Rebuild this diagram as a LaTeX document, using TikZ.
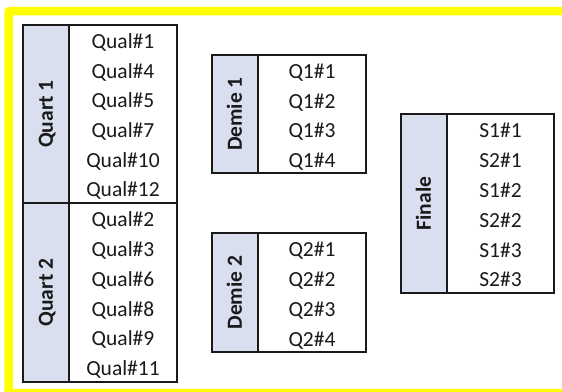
\documentclass[tikz,border=0pt]{standalone}
\usepackage{fontspec}
\setmainfont{Carlito}
\definecolor{labfill}{HTML}{D9DFEF}
\definecolor{framecol}{HTML}{FFFF00}
\definecolor{linecol}{HTML}{1A1A1A}
\tikzset{
  cellline/.style={draw=linecol, line width=1.4pt},
  labbox/.style={cellline, fill=labfill, rotate=90, inner sep=0pt,
    font=\fontsize{21.5}{26}\selectfont\bfseries, text=linecol,
    text height=13.8pt, text depth=0pt, minimum height=46pt},
  valbox/.style={cellline, fill=white, inner sep=0pt},
  item/.style={inner sep=0pt, font=\fontsize{21.5}{26}\selectfont, text=linecol,
    text height=13.8pt, text depth=0pt, anchor=center},
}
\begin{document}
\begin{tikzpicture}[x=1pt,y=-1pt]
\useasboundingbox (0,0) rectangle (562,391);
\fill[white] (0,0) rectangle (562,391);
\begin{scope}
\clip (0,0) rectangle (562,391);
\draw[framecol, line width=8.5pt, rounded corners=2pt] (8.5,11) rectangle (600,393);
\end{scope}
% Quart 1
\node[valbox, minimum width=108pt, minimum height=178pt] (q1v) at (123,114) {};
\node[labbox, minimum width=178pt] (q1l) at (46,114) {Quart 1};
\foreach \t [count=\i] in {Qual\#1,Qual\#4,Qual\#5,Qual\#7,Qual\#10,Qual\#12}
  \node[item] (q1-\i) at (123,{25+(\i-0.5)*178/6+1.8}) {\t};
% Quart 2
\node[valbox, minimum width=108pt, minimum height=179pt] (q2v) at (123,292.5) {};
\node[labbox, minimum width=179pt] (q2l) at (46,292.5) {Quart 2};
\foreach \t [count=\i] in {Qual\#2,Qual\#3,Qual\#6,Qual\#8,Qual\#9,Qual\#11}
  \node[item] (q2-\i) at (123,{203+(\i-0.5)*179/6+1.8}) {\t};
% Demie 1
\node[valbox, minimum width=108pt, minimum height=118pt] (d1v) at (312,114) {};
\node[labbox, minimum width=118pt] (d1l) at (235,114) {Demie 1};
\foreach \t [count=\i] in {Q1\#1,Q1\#2,Q1\#3,Q1\#4}
  \node[item] (d1-\i) at (312,{55+(\i-0.5)*118/4+2}) {\t};
% Demie 2
\node[valbox, minimum width=108pt, minimum height=119pt] (d2v) at (312,292.5) {};
\node[labbox, minimum width=119pt] (d2l) at (235,292.5) {Demie 2};
\foreach \t [count=\i] in {Q2\#1,Q2\#2,Q2\#3,Q2\#4}
  \node[item] (d2-\i) at (312,{233+(\i-0.5)*119/4+2}) {\t};
% Finale
\node[valbox, minimum width=107pt, minimum height=179pt] (fv) at (500.5,203.5) {};
\node[labbox, minimum width=179pt] (fl) at (424,203.5) {Finale};
\foreach \t [count=\i] in {S1\#1,S2\#1,S1\#2,S2\#2,S1\#3,S2\#3}
  \node[item] (f-\i) at (500.5,{114+(\i-0.5)*179/6+2}) {\t};
\end{tikzpicture}
\end{document}
